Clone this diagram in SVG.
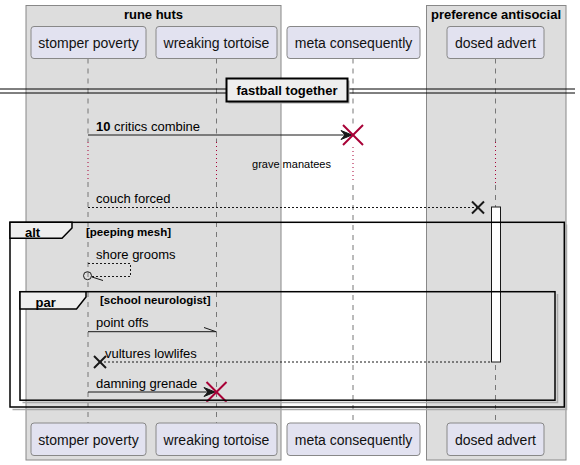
<svg xmlns="http://www.w3.org/2000/svg" width="580" height="465" viewBox="0 0 580 465">
<style>
text{font-family:"Liberation Sans",Arial,sans-serif;fill:#000}
.grp{fill:#DDDDDD;stroke:#888888;stroke-width:1}
.gt{font-size:13px;font-weight:bold;text-anchor:middle}
.pbox{fill:#E2E2F0;stroke:#888888;stroke-width:1}
.pt{font-size:14px;text-anchor:middle;fill:#111}
.life{stroke:#777777;stroke-width:1;stroke-dasharray:5,5}
.delay{stroke:#A80036;stroke-width:1;stroke-dasharray:1,3}
.msg{stroke:#181818;stroke-width:1;fill:none}
.dash{stroke-dasharray:2,2}
.mt{font-size:13px}
.redx{stroke:#A80036;stroke-width:2}
.blkx{stroke:#181818;stroke-width:2}
.frame{fill:none;stroke:#000;stroke-width:1.5}
.shadow{fill:none;stroke:#AAAAAA;stroke-width:1.5}
.tab{fill:#EEEEEE;stroke:#000;stroke-width:1.5}
.ft{font-size:13px;font-weight:bold}
.guard{font-size:11.5px;font-weight:bold}
</style>

<g id="group-rune-huts">
<rect class="grp" x="26" y="5.5" width="255" height="454.5"/>
<text class="gt" x="153.5" y="18.5">rune huts</text>
</g>
<g id="group-preference-antisocial">
<rect class="grp" x="426.5" y="5.5" width="139.5" height="454.5"/>
<text class="gt" x="496" y="18.5">preference antisocial</text>
</g>

<g id="lifelines">
<line class="life" x1="88" y1="58.5" x2="88" y2="142"/>
<line class="life" x1="88" y1="182" x2="88" y2="423"/>
<line class="life" x1="216.5" y1="58.5" x2="216.5" y2="142"/>
<line class="life" x1="216.5" y1="182" x2="216.5" y2="423"/>
<line class="life" x1="353" y1="58.5" x2="353" y2="125"/>
<line class="life" x1="353" y1="185" x2="353" y2="423"/>
<line class="life" x1="495.5" y1="58.5" x2="495.5" y2="142"/>
<line class="life" x1="495.5" y1="185" x2="495.5" y2="423"/>
<line class="delay" x1="88" y1="142" x2="88" y2="182"/>
<line class="delay" x1="216.5" y1="142" x2="216.5" y2="182"/>
<line class="delay" x1="353" y1="147" x2="353" y2="182"/>
<line class="delay" x1="495.5" y1="142" x2="495.5" y2="185"/>
</g>

<g id="stomper-poverty">
<rect class="pbox" x="31" y="26.5" width="115" height="32" rx="3"/>
<text class="pt" x="88.5" y="47.5">stomper poverty</text>
<rect class="pbox" x="31" y="423" width="115" height="32.5" rx="3"/>
<text class="pt" x="88.5" y="444.5">stomper poverty</text>
</g>
<g id="wreaking-tortoise">
<rect class="pbox" x="156" y="26.5" width="121" height="32" rx="3"/>
<text class="pt" x="216.5" y="47.5">wreaking tortoise</text>
<rect class="pbox" x="156" y="423" width="121" height="32.5" rx="3"/>
<text class="pt" x="216.5" y="444.5">wreaking tortoise</text>
</g>
<g id="meta-consequently">
<rect class="pbox" x="287" y="26.5" width="133" height="32" rx="3"/>
<text class="pt" x="353.5" y="47.5">meta consequently</text>
<rect class="pbox" x="287" y="423" width="133" height="32.5" rx="3"/>
<text class="pt" x="353.5" y="444.5">meta consequently</text>
</g>
<g id="dosed-advert">
<rect class="pbox" x="447" y="26.5" width="97" height="32" rx="3"/>
<text class="pt" x="495.5" y="47.5">dosed advert</text>
<rect class="pbox" x="447" y="423" width="97" height="32.5" rx="3"/>
<text class="pt" x="495.5" y="444.5">dosed advert</text>
<rect x="491.5" y="207" width="9" height="155" fill="#FFFFFF" stroke="#181818" stroke-width="1"/>
</g>

<g id="divider-fastball-together">
<line x1="0" y1="89" x2="575" y2="89" stroke="#000" stroke-width="1"/>
<line x1="0" y1="93" x2="575" y2="93" stroke="#000" stroke-width="1"/>
<rect x="228.5" y="80.5" width="121" height="23" fill="#AAAAAA"/>
<rect x="226.5" y="78.5" width="121" height="23" fill="#EEEEEE" stroke="#000" stroke-width="2"/>
<text class="ft" x="287" y="95" text-anchor="middle">fastball together</text>
</g>

<g id="connectors">
<line class="msg" x1="88" y1="135" x2="351" y2="135"/>
<polygon points="352,135 341,130.5 345,135 341,139.5" fill="#181818" stroke="#181818" stroke-width="1"/>
<line class="redx" x1="343" y1="125" x2="363" y2="145"/>
<line class="redx" x1="363" y1="125" x2="343" y2="145"/>
<text class="mt" x="96" y="131"><tspan font-weight="bold">10</tspan> critics combine</text>

<text x="291.5" y="168" font-size="11" text-anchor="middle">grave manatees</text>

<line class="msg dash" x1="88" y1="207.5" x2="478" y2="207.5"/>
<line class="blkx" x1="472" y1="201.5" x2="484" y2="213.5"/>
<line class="blkx" x1="484" y1="201.5" x2="472" y2="213.5"/>
<text class="mt" x="96" y="202.5">couch forced</text>

<path class="msg dash" d="M88,263.5 H130.5 V276.5 H92"/>
<circle cx="87.5" cy="275.7" r="4" fill="none" stroke="#181818" stroke-width="1"/>
<line class="msg" x1="92" y1="277" x2="103" y2="280.5"/>
<text class="mt" x="96" y="258.5">shore grooms</text>

<line class="msg" x1="88" y1="331.7" x2="216.5" y2="331.7"/>
<line class="msg" x1="204" y1="327.5" x2="216" y2="331.7"/>
<text class="mt" x="96" y="326.5">point offs</text>

<line class="msg dash" x1="100" y1="362" x2="491.5" y2="362"/>
<line class="blkx" x1="94" y1="356" x2="106" y2="368"/>
<line class="blkx" x1="106" y1="356" x2="94" y2="368"/>
<text class="mt" x="105" y="357.5">vultures lowlifes</text>

<line class="msg" x1="88" y1="392" x2="214" y2="392"/>
<polygon points="215,392 204,387.5 208,392 204,396.5" fill="#181818" stroke="#181818" stroke-width="1"/>
<line class="redx" x1="206.5" y1="382" x2="226.5" y2="402"/>
<line class="redx" x1="226.5" y1="382" x2="206.5" y2="402"/>
<text class="mt" x="96" y="387.5">damning grenade</text>
</g>

<g id="fragment-alt">
<path class="shadow" d="M566.5,224.5 V409.5 H12.5"/>
<rect class="frame" x="10" y="222.3" width="554.3" height="184.7"/>
<path class="tab" d="M10,222.3 H72 V228 L62,238.3 H10 Z"/>
<text class="ft" x="25" y="236.5">alt</text>
<text class="guard" x="86" y="236">[peeping mesh]</text>
</g>

<g id="fragment-par">
<path class="shadow" d="M557.5,294 V402.5 H22.5"/>
<rect class="frame" x="20" y="291.7" width="535" height="108.5"/>
<path class="tab" d="M20,291.7 H86 V297 L76.5,309 H20 Z"/>
<text class="ft" x="35.5" y="306.5">par</text>
<text class="guard" x="100" y="304">[school neurologist]</text>
</g>
</svg>
